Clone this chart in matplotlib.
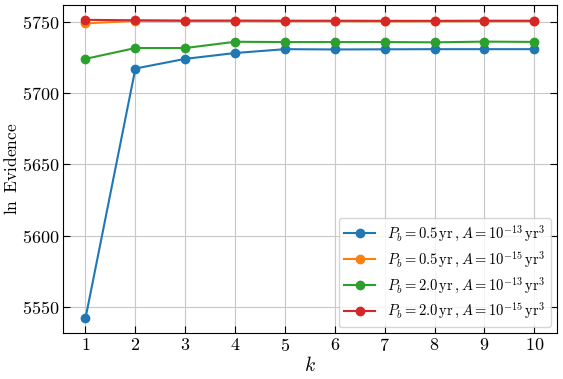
import numpy as np
import matplotlib
matplotlib.use("Agg")
import matplotlib.pyplot as plt

plt.rcParams['font.family'] = 'serif'
plt.rcParams['font.serif'] = ['cmr10']
plt.rcParams['mathtext.fontset'] = 'cm'
plt.rcParams['axes.formatter.use_mathtext'] = True
plt.rcParams['font.size'] = 13

k = [1, 2, 3, 4, 5, 6, 7, 8, 9, 10]
ev_05_13 = [5542.0, 5717.4, 5724.2, 5728.3, 5731.0, 5730.8, 5730.9, 5731.0, 5731.0, 5731.0]
ev_05_15 = [5749.1, 5750.9, 5750.8, 5750.8, 5750.7, 5750.7, 5750.6, 5750.6, 5750.7, 5750.7]
ev_20_13 = [5724.2, 5731.8, 5731.8, 5736.2, 5736.0, 5736.0, 5736.0, 5735.8, 5736.3, 5736.1]
ev_20_15 = [5751.6, 5751.3, 5751.1, 5751.1, 5751.0, 5751.0, 5750.9, 5750.9, 5751.0, 5751.0]

labels = [r'$P_b = 0.5\,\mathrm{yr}\,, A = 10^{-13}\,\mathrm{yr}^3$',
          r'$P_b = 0.5\,\mathrm{yr}\,, A = 10^{-15}\,\mathrm{yr}^3$',
          r'$P_b = 2.0\,\mathrm{yr}\,, A = 10^{-13}\,\mathrm{yr}^3$',
          r'$P_b = 2.0\,\mathrm{yr}\,, A = 10^{-15}\,\mathrm{yr}^3$']

fig = plt.figure(figsize=(5.63, 3.79), dpi=100)
ax = fig.add_axes([0.112, 0.121, 0.877, 0.866])

for ev, lab in zip([ev_05_13, ev_05_15, ev_20_13, ev_20_15], labels):
    ax.plot(k, ev, marker='o', ms=6, label=lab)

ax.set_xticks(k)
ax.set_yticks([5550, 5600, 5650, 5700, 5750])
ax.grid(True, color='#c8c8c8', lw=0.8)
ax.tick_params(direction='in', top=True, right=True, length=5, labelsize=13)
ax.tick_params(axis='y', pad=2.5)
ax.tick_params(axis='x', pad=3)
ax.set_xlabel(r'$k$', fontsize=14, labelpad=1)
ax.set_ylabel(r'$\ln$ Evidence', fontsize=12.5, labelpad=1.5)
ax.legend(loc='lower right', fontsize=10.5, handlelength=2.1, labelspacing=0.4,
          borderaxespad=0.4)

plt.savefig('out.png', dpi=100)
